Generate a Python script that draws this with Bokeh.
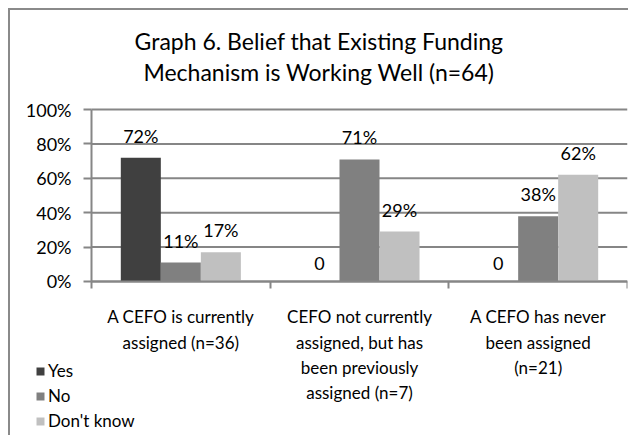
from bokeh.plotting import figure
from bokeh.models import ColumnDataSource, FixedTicker, Legend, LegendItem, Range1d, Title
from bokeh.core.properties import value
from bokeh.transform import dodge
from bokeh.embed import file_html
from bokeh.resources import INLINE

categories = [
    "A CEFO is currently\nassigned (n=36)",
    "CEFO not currently\nassigned, but has\nbeen previously\nassigned (n=7)",
    "A CEFO has never\nbeen assigned\n(n=21)",
]
series = ["Yes", "No", "Don't know"]
yes = [72, 0, 0]
no = [11, 71, 38]
dont_know = [17, 29, 62]
y_ticks = [0, 20, 40, 60, 80, 100]

colors = ["#404040", "#808080", "#c0c0c0"]
FONT = "Lato"
GRID = "#868686"

ncat = len(categories)
xpos = [i + 0.5 for i in range(ncat)]


def lab(v):
    return f"{v}%" if v else "0"


src = ColumnDataSource(dict(
    x=xpos,
    yes=yes, no=no, dk=dont_know,
    yes_l=[lab(v) for v in yes],
    no_l=[lab(v) for v in no],
    dk_l=[lab(v) for v in dont_know],
))

# frame covers the whole lower canvas so the legend and category labels are not clipped
p = figure(width=620, height=427, output_backend="svg", toolbar_location=None,
           x_range=Range1d(-0.4534, ncat), y_range=Range1d(-90.7, 108.14),
           min_border_left=0, min_border_right=3, min_border_top=85,
           min_border_bottom=0)
p.styles = {"margin-left": "8px", "margin-top": "8px",
            "border-left": "2px solid #8a8a8a", "border-top": "2px solid #8a8a8a"}
p.outline_line_color = None
p.background_fill_color = "white"
p.border_fill_color = "white"

p.add_layout(Title(text="Mechanism is Working Well (n=64)", align="center",
                   text_font=FONT, text_font_size="23px", text_font_style="normal",
                   text_color="#000000", standoff=19), "above")
p.add_layout(Title(text="Graph 6. Belief that Existing Funding", align="center",
                   text_font=FONT, text_font_size="23px", text_font_style="normal",
                   text_color="#000000", standoff=-17), "above")

# horizontal gridlines across the categories only
p.segment(x0=[0] * len(y_ticks), x1=[ncat] * len(y_ticks), y0=y_ticks, y1=y_ticks,
          line_color=GRID, line_width=2, level="underlay")

w = 0.224
offs = [-w, 0, w]
fields = ["yes", "no", "dk"]
renderers = []
for f, off, c in zip(fields, offs, colors):
    r = p.vbar(x=dodge("x", off), top=f, width=w, bottom=0, source=src,
               fill_color=c, line_color=None)
    renderers.append(r)
    p.text(x=dodge("x", off), y=f, text=f + "_l", source=src, text_align="center",
           text_baseline="bottom", y_offset=-11, text_font=value(FONT),
           text_font_size="18px", text_color="#000000")

p.xgrid.grid_line_color = None
p.ygrid.grid_line_color = None

p.yaxis.fixed_location = 0
p.yaxis.bounds = (0, 100)
p.yaxis.ticker = FixedTicker(ticks=y_ticks)
p.yaxis.major_label_overrides = {t: f"{t}%" for t in y_ticks}
p.yaxis.axis_line_color = GRID
p.yaxis.axis_line_width = 2
p.yaxis.major_tick_line_color = GRID
p.yaxis.major_tick_line_width = 2
p.yaxis.major_tick_out = 8
p.yaxis.major_tick_in = 0
p.yaxis.minor_tick_line_color = None
p.yaxis.major_label_text_font = FONT
p.yaxis.major_label_text_font_size = "18px"
p.yaxis.major_label_text_color = "#000000"
p.yaxis.major_label_standoff = 12

p.xaxis.fixed_location = 0
p.xaxis.bounds = (0, ncat)
p.xaxis.ticker = FixedTicker(ticks=xpos, minor_ticks=list(range(ncat + 1)))
p.xaxis.major_label_overrides = {x: c for x, c in zip(xpos, categories)}
p.xaxis.axis_line_color = GRID
p.xaxis.axis_line_width = 2
p.xaxis.major_tick_line_color = None
p.xaxis.minor_tick_line_color = GRID
p.xaxis.minor_tick_line_width = 2
p.xaxis.minor_tick_out = 7
p.xaxis.minor_tick_in = 0
p.xaxis.major_label_text_font = FONT
p.xaxis.major_label_text_font_size = "17px"
p.xaxis.major_label_text_color = "#000000"
p.xaxis.major_label_standoff = 18

legend = Legend(items=[LegendItem(label=s, renderers=[r]) for s, r in zip(series, renderers)],
                location=(25, 4), orientation="vertical",
                label_text_font=FONT, label_text_font_size="17px",
                label_text_color="#000000",
                glyph_width=10, glyph_height=10, label_standoff=3,
                spacing=0, padding=0, margin=0, label_height=25,
                background_fill_alpha=0, border_line_color=None)
p.add_layout(legend, "center")

open("out.html", "w").write(file_html(p, INLINE))
